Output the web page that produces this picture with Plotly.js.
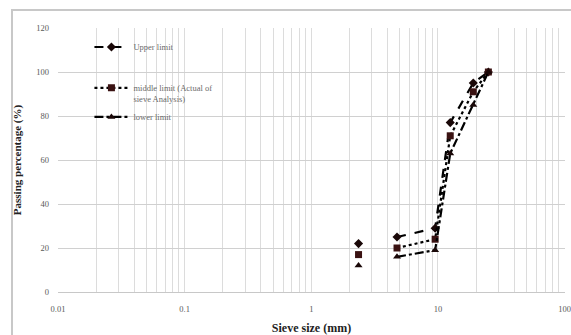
<!DOCTYPE html>
<html>
<head>
<meta charset="utf-8">
<script src="https://cdn.plot.ly/plotly-3.0.1.min.js"></script>
<style>
html,body{margin:0;padding:0;background:#fff;}
#wrap{position:relative;width:571px;height:335px;overflow:hidden;}
#chart{position:absolute;left:0;top:0;width:571px;height:335px;}
#frame{position:absolute;left:11px;top:9px;width:620px;height:400px;border:2px solid #c8c8c8;pointer-events:none;}
</style>
</head>
<body>
<div id="wrap"><div id="chart"></div><div id="frame"></div></div>
<script>
// Sieve sizes (mm) and passing percentages
const sieveSizes = [2.36, 4.75, 9.5, 12.5, 19, 25];
const upperLimit = [22, 25, 29, 77, 95, 100];
const middleLimit = [17, 20, 24, 71, 91, 100];
const lowerLimit = [12, 16, 19, 63, 85, 100];
const seriesNames = ["Upper limit", "middle limit (Actual of<br>sieve Analysis)", "lower limit"];
const xTickDecades = [0.01, 0.1, 1, 10, 100];
const xTickLabels = ["0.01", "0.1", "1", "10", "100"];
const yTicks = [0, 20, 40, 60, 80, 100, 120];

// break the line between the first two sieves, as in the reference
function withBreak(xs, ys) {
  const X = [xs[0], null], Y = [ys[0], null];
  for (let i = 1; i < xs.length; i++) { X.push(xs[i]); Y.push(ys[i]); }
  return {X, Y};
}

// build minor grid tick positions from the decades
const gridVals = [], gridText = [];
for (let d = 0; d < xTickDecades.length; d++) {
  const base = xTickDecades[d];
  gridVals.push(base); gridText.push(xTickLabels[d]);
  if (d < xTickDecades.length - 1) {
    for (let m = 2; m <= 9; m++) { gridVals.push(base * m); gridText.push(""); }
  }
}

const u = withBreak(sieveSizes, upperLimit);
const m = withBreak(sieveSizes, middleLimit);
const l = withBreak(sieveSizes, lowerLimit);

const traces = [
  {x: u.X, y: u.Y, name: seriesNames[0], mode: "lines+markers", connectgaps: false,
   line: {color: "#000", width: 2.2, dash: "dash"},
   marker: {symbol: "diamond", size: 7, color: "#1a0808"}, legend: "legend"},
  {x: m.X, y: m.Y, name: seriesNames[1], mode: "lines+markers", connectgaps: false,
   line: {color: "#000", width: 2.2, dash: "dot"},
   marker: {symbol: "square", size: 7, color: "#3a1212"}, legend: "legend2"},
  {x: l.X, y: l.Y, name: seriesNames[2], mode: "lines+markers", connectgaps: false,
   line: {color: "#000", width: 2.2, dash: "dashdot"},
   marker: {symbol: "triangle-up", size: 7, color: "#1a0808"}, legend: "legend3"}
];

const legFont = {family: "Liberation Serif, serif", size: 8.5, color: "#6a6a6a"};
const legBase = {bgcolor: "rgba(0,0,0,0)", font: legFont, xanchor: "left", itemwidth: 34, tracegroupgap: 0};

const layout = {
  width: 571, height: 335,
  margin: {l: 58, r: 6, t: 28, b: 43},
  paper_bgcolor: "rgba(0,0,0,0)", plot_bgcolor: "#fff",
  showlegend: true,
  legend: Object.assign({}, legBase, {x: 0.062, y: 0.928, yanchor: "middle"}),
  legend2: Object.assign({}, legBase, {x: 0.062, y: 0.819, yanchor: "top", valign: "top"}),
  legend3: Object.assign({}, legBase, {x: 0.062, y: 0.663, yanchor: "middle"}),
  xaxis: {
    type: "log", range: [-2, 2.003],
    tickmode: "array", tickvals: gridVals, ticktext: gridText,
    showgrid: true, gridcolor: "#dcdcdc", gridwidth: 1,
    zeroline: false, showline: false, ticks: "", ticklabelstandoff: 10,
    ticklabeloverflow: "allow",
    tickfont: {family: "Liberation Serif, serif", size: 8.5, color: "#595959"},
    title: {text: "<b>Sieve size (mm)</b>", font: {family: "Liberation Serif, serif", size: 12, color: "#222"}, standoff: 14}
  },
  yaxis: {
    range: [0, 120], tickvals: yTicks,
    showgrid: true, gridcolor: "#d0d0d0", gridwidth: 1,
    zeroline: true, zerolinecolor: "#c8c8c8", zerolinewidth: 1,
    showline: false, ticks: "", ticklabelstandoff: 8,
    tickfont: {family: "Liberation Serif, serif", size: 8.5, color: "#595959"},
    title: {text: "<b>Passing percentage (%)</b>", font: {family: "Liberation Serif, serif", size: 11, color: "#222"}, standoff: 12}
  }
};

Plotly.newPlot("chart", traces, layout, {displayModeBar: false, staticPlot: true});
</script>
</body>
</html>
